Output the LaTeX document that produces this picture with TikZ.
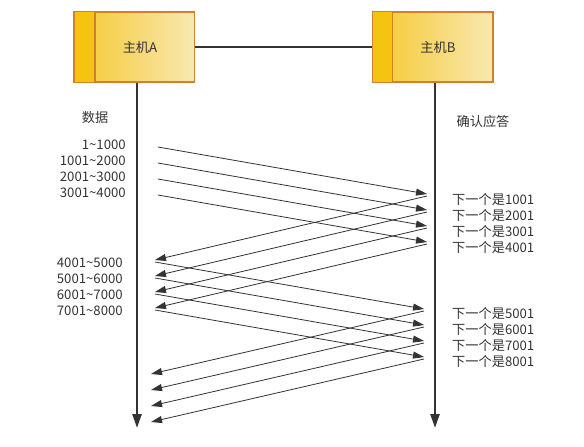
\documentclass[tikz,border=0pt]{standalone}
\usepackage{fontspec}
\setmainfont{Noto Sans CJK SC}
\usetikzlibrary{arrows.meta}
\definecolor{linegray}{HTML}{333333}
\definecolor{boxedge}{HTML}{D4802A}
\definecolor{stripfill}{HTML}{F4C40F}
\definecolor{shadeleft}{HTML}{F6C930}
\definecolor{shaderight}{HTML}{F7E8B0}
\tikzset{
  hostbox/.style = {rectangle, draw=boxedge, line width=1.3pt,
    left color=shadeleft, right color=shaderight,
    minimum width=120pt, minimum height=70pt, inner sep=0pt},
  hoststrip/.style = {draw=boxedge, line width=1.3pt, fill=stripfill},
  txt/.style = {inner sep=0pt, text=linegray,
    font=\fontsize{13.2}{15}\selectfont},
  lifeline/.style = {draw=linegray, line width=2.4pt, -{Triangle[length=14pt,width=9pt]}},
  msg/.style = {draw=linegray, line width=0.8pt, -{Triangle[length=11pt,width=7pt]}}
}
\begin{document}
\begin{tikzpicture}[x=1pt,y=-1pt]
\useasboundingbox (0,0) rectangle (584,447);
% hosts
\node [hostbox] (hostA) at (134.5,47) {};
\node [hostbox] (hostB) at (433,47) {};
\draw [hoststrip] (hostA.north west) rectangle ([xshift=21pt]hostA.south west);
\draw [hoststrip] (hostB.north west) rectangle ([xshift=20pt]hostB.south west);
\node [txt] (nameA) at (140,47) {主机A};
\node [txt] (nameB) at (438,47) {主机B};
\draw [draw=linegray, line width=2.6pt] (hostA.east) -- (hostB.west);
% lifelines
\coordinate (endA) at (137,428);
\coordinate (endB) at (435,428);
\draw [lifeline] (hostA.south -| endA) -- (endA);
\draw [lifeline] (hostB.south -| endB) -- (endB);
\node [txt] (dataHead) at (95,117) {数据};
\node [txt] (ackHead) at (483,121) {确认应答};
% first window
\foreach \t [count=\i from 0] in {1\textasciitilde1000,1001\textasciitilde2000,
    2001\textasciitilde3000,3001\textasciitilde4000}
  \node [txt, anchor=east] (segA\i) at (126,145+16*\i) {\t};
\foreach \n [count=\i from 0] in {1001,2001,3001,4001}
  \node [txt, anchor=west] (ackA\i) at (452,199+16*\i) {下一个是\n};
\foreach \i in {0,...,3}{
  \coordinate (sndA\i) at (158,147+16*\i);
  \coordinate (rcvA\i) at (427,194+16*\i);
  \coordinate (retA\i) at (155,260+16*\i);
  \draw [msg] (sndA\i) -- (rcvA\i);
  \draw [msg] ([yshift=-2pt]rcvA\i) -- (retA\i);
}
% second window
\foreach \t [count=\i from 0] in {4001\textasciitilde5000,5001\textasciitilde6000,
    6001\textasciitilde7000,7001\textasciitilde8000}
  \node [txt, anchor=east] (segB\i) at (123,263+16*\i) {\t};
\foreach \n [count=\i from 0] in {5001,6001,7001,8001}
  \node [txt, anchor=west] (ackB\i) at (452,313+16*\i) {下一个是\n};
\foreach \i in {0,...,3}{
  \coordinate (sndB\i) at (155,262+16*\i);
  \coordinate (rcvB\i) at (424,309+16*\i);
  \coordinate (retB\i) at (151,374+16*\i);
  \draw [msg] (sndB\i) -- (rcvB\i);
  \draw [msg] ([yshift=-2pt]rcvB\i) -- (retB\i);
}
\end{tikzpicture}
\end{document}
